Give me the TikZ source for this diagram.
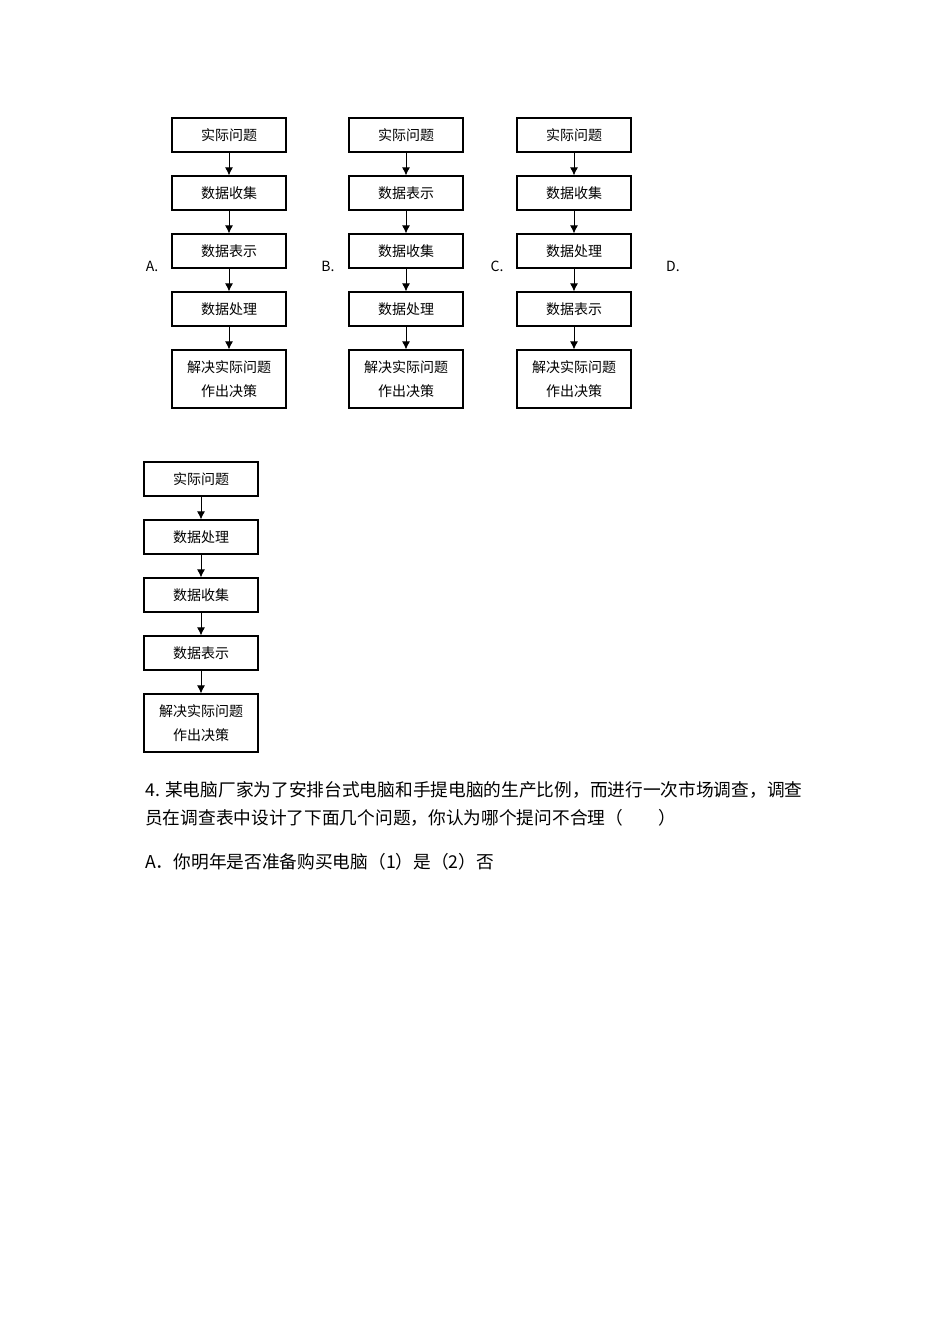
\documentclass[tikz,border=0pt]{standalone}
\usepackage{fontspec}
\setmainfont{Noto Sans CJK SC}
\usepackage{tikz}
\usetikzlibrary{arrows.meta}

\begin{document}
\begin{tikzpicture}[>={Latex[length=8pt,width=8pt]}, x=1pt, y=-1pt,
    box/.style={draw, line width=1.2pt, minimum width=114pt, minimum height=34pt,
      inner sep=0pt, align=center, font=\fontsize{14}{24}\selectfont},
    tallbox/.style={box, minimum height=58pt},
    optlabel/.style={font=\fontsize{14}{16}\selectfont},
    qline/.style={anchor=west, inner sep=0pt, font=\fontsize{17.7}{20}\selectfont}]
  \useasboundingbox (0,0) rectangle (950,1344);
  % four options, each a column of five steps
  \foreach \col/\x/\y/\sa/\sb/\sc in {A/229/135/数据收集/数据表示/数据处理,
      B/406/135/数据表示/数据收集/数据处理,
      C/574/135/数据收集/数据处理/数据表示,
      D/201/479/数据处理/数据收集/数据表示} {
    \node[box] (\col1) at (\x,\y) {实际问题};
    \node[box] (\col2) at (\x,\y+58) {\sa};
    \node[box] (\col3) at (\x,\y+116) {\sb};
    \node[box] (\col4) at (\x,\y+174) {\sc};
    \node[tallbox] (\col5) at (\x,\y+244) {解决实际问题\\作出决策};
    \draw[->, line width=1pt] (\col1) -- (\col2);
    \draw[->, line width=1pt] (\col2) -- (\col3);
    \draw[->, line width=1pt] (\col3) -- (\col4);
    \draw[->, line width=1pt] (\col4) -- (\col5);
  }
  \node[optlabel] (labA) at (152,266) {A.};
  \node[optlabel] (labB) at (328,266) {B.};
  \node[optlabel] (labC) at (497,266) {C.};
  \node[optlabel] (labD) at (673,266) {D.};
  % question text
  \node[qline] (q1) at (145,790) {4. 某电脑厂家为了安排台式电脑和手提电脑的生产比例，而进行一次市场调查，调查};
  \node[qline] (q2) at (145,818) {员在调查表中设计了下面几个问题，你认为哪个提问不合理（\hspace{2em}）};
  \node[qline] (q3) at (145,862) {A．你明年是否准备购买电脑（1）是（2）否};
\end{tikzpicture}
\end{document}
